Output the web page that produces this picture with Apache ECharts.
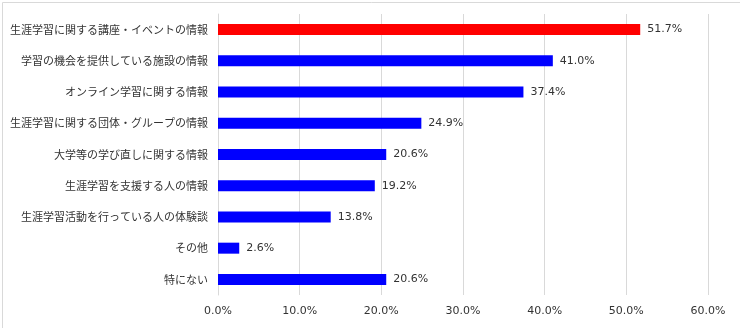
<!DOCTYPE html>
<html><head><meta charset="utf-8">
<script src="https://cdn.jsdelivr.net/npm/echarts@6/dist/echarts.min.js"></script>
<style>html,body{margin:0;padding:0;background:#fff}#c{width:740px;height:328px}</style>
</head><body><div id="c"></div>
<script>
const categories = ["生涯学習に関する講座・イベントの情報","学習の機会を提供している施設の情報","オンライン学習に関する情報","生涯学習に関する団体・グループの情報","大学等の学び直しに関する情報","生涯学習を支援する人の情報","生涯学習活動を行っている人の体験談","その他","特にない"];
const values = [51.7, 41.0, 37.4, 24.9, 20.6, 19.2, 13.8, 2.6, 20.6];
const highlightIndex = 0;

const chart = echarts.init(document.getElementById('c'), null, {renderer:'canvas'});
const font = '"Noto Sans CJK JP", "Noto Sans", sans-serif';
const numFont = '"DejaVu Sans", sans-serif';
chart.setOption({
  animation:false,
  textStyle:{fontFamily:font},
  graphic:[{type:'rect',left:0,top:0,shape:{width:739,height:327},style:{fill:'none',stroke:'#d9d9d9',lineWidth:1},silent:true,z:-1}],
  grid:{left:218,right:32,top:14,bottom:33},
  xAxis:{type:'value',min:0,max:60,interval:10,
    axisLabel:{formatter:v=>v.toFixed(1)+'%',color:'#333333',fontSize:11,margin:11,fontFamily:numFont},
    splitLine:{lineStyle:{color:'#d9d9d9'}},axisLine:{show:false},axisTick:{show:false}},
  yAxis:{type:'category',inverse:true,data:categories,
    axisLabel:{color:'#333333',fontSize:11,margin:10,fontFamily:font},
    axisLine:{show:true,lineStyle:{color:'#d9d9d9'}},axisTick:{show:false}},
  series:[{type:'bar',barWidth:11,
    data:values.map((v,i)=>({value:v,itemStyle:{color:i===highlightIndex?'#ff0000':'#0000ff'}})),
    label:{show:true,position:'right',distance:7,formatter:p=>p.value.toFixed(1)+'%',color:'#333333',fontSize:11,fontFamily:numFont}}]
});
</script></body></html>
